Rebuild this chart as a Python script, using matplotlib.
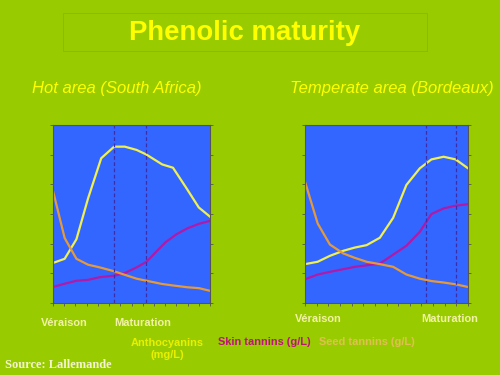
import matplotlib.pyplot as plt
from matplotlib.patches import Rectangle

# hot area (South Africa)
hot_antho_x = [0, 1.04, 2.09, 3.13, 4.3, 5.45, 6.4, 7.45, 8.3, 9.74, 10.7, 11.9, 13.0, 14]
hot_antho_y = [1.35, 1.49, 2.15, 3.53, 4.88, 5.27, 5.27, 5.16, 5.01, 4.67, 4.56, 3.87, 3.22, 2.91]
hot_skin_x = [0, 1.04, 2.09, 3.13, 4.17, 5.45, 6.4, 7.45, 8.34, 9.23, 10.04, 11.02, 12.0, 13.02, 14]
hot_skin_y = [0.54, 0.65, 0.75, 0.78, 0.87, 0.92, 1.01, 1.20, 1.39, 1.74, 2.05, 2.32, 2.52, 2.67, 2.77]
hot_seed_x = [0, 1.04, 2.09, 3.13, 4.17, 5.45, 6.4, 7.45, 8.34, 9.74, 10.72, 12.0, 13.02, 14]
hot_seed_y = [3.78, 2.19, 1.49, 1.29, 1.20, 1.07, 0.95, 0.82, 0.75, 0.64, 0.59, 0.53, 0.50, 0.41]
hot_marks = [5.45, 8.25]

# temperate area (Bordeaux)
temp_x = [0, 1.09, 2.14, 3.29, 4.29, 5.29, 6.43, 7.57, 8.71, 9.86, 10.86, 11.91, 12.94, 14]
temp_antho_y = [1.31, 1.39, 1.59, 1.76, 1.87, 1.95, 2.20, 2.87, 3.98, 4.54, 4.84, 4.93, 4.84, 4.54]
temp_skin_y = [0.80, 0.96, 1.05, 1.14, 1.22, 1.27, 1.33, 1.63, 1.93, 2.40, 3.00, 3.19, 3.28, 3.33]
temp_seed_y = [4.09, 2.68, 1.97, 1.67, 1.52, 1.39, 1.31, 1.22, 0.96, 0.82, 0.74, 0.69, 0.63, 0.54]
temp_marks = [10.43, 13.0]

bg = '#99cc00'
blue = '#3366ff'
c_antho = '#f0f050'
c_skin = '#b01aa8'
c_seed = '#e39a3c'

plt.rcParams['font.family'] = ['Liberation Sans', 'DejaVu Sans']

fig = plt.figure(figsize=(5, 3.75), dpi=100)
fig.patch.set_facecolor(bg)
W, H = 500.0, 375.0

def make_axes(left, right, top, bottom):
    return fig.add_axes([left / W, 1 - bottom / H, (right - left) / W, (bottom - top) / H])

def draw(ax, series, marks):
    ax.set_facecolor(blue)
    for xs, ys, c in series:
        ax.plot(xs, ys, color=c, lw=1.6)
    for m in marks:
        ax.axvline(m, color='#3a2fa8', lw=0.9, ls=(0, (3, 2)))
    ax.set_xlim(0, 14)
    ax.set_ylim(0, 6)
    ax.set_xticks(range(15))
    ax.set_yticks(range(7))
    ax.tick_params(axis='both', length=2.5, width=0.6, color='#555555',
                   labelbottom=False, labelleft=False, right=True, direction='out')
    for s in ax.spines.values():
        s.set_color('#555555')
        s.set_linewidth(0.8)

ax1 = make_axes(53, 210, 125, 303)
draw(ax1, [(hot_antho_x, hot_antho_y, c_antho), (hot_skin_x, hot_skin_y, c_skin),
           (hot_seed_x, hot_seed_y, c_seed)], hot_marks)
ax2 = make_axes(305, 468, 125, 303)
draw(ax2, [(temp_x, temp_antho_y, c_antho), (temp_x, temp_skin_y, c_skin),
           (temp_x, temp_seed_y, c_seed)], temp_marks)

# title box
fig.patches.append(Rectangle((64 / W, 1 - 52 / H), 364 / W, 38 / H, transform=fig.transFigure,
                             facecolor='#7aa800', edgecolor='none', zorder=0))
fig.patches.append(Rectangle((63 / W, 1 - 51 / H), 364 / W, 38 / H, transform=fig.transFigure,
                             facecolor=bg, edgecolor='#8cbc00', lw=0.8, zorder=1))
fig.text(245 / W, 1 - 33 / H, 'Phenolic maturity', color='#ffff00', fontsize=19.8,
         fontweight='bold', ha='center', va='center', zorder=2)

fig.text(117 / W, 1 - 89 / H, 'Hot area (South Africa)', color='#ffff00', fontsize=12,
         style='italic', ha='center', va='center')
fig.text(392 / W, 1 - 89 / H, 'Temperate area (Bordeaux)', color='#ffff00', fontsize=12,
         style='italic', ha='center', va='center')

lab = '#f2f2a6'
fs = 7.9
fig.text(64 / W, 1 - 323 / H, 'Véraison', color=lab, fontsize=fs, fontweight='bold', ha='center', va='center')
fig.text(143 / W, 1 - 323 / H, 'Maturation', color=lab, fontsize=fs, fontweight='bold', ha='center', va='center')
fig.text(318 / W, 1 - 319 / H, 'Véraison', color=lab, fontsize=fs, fontweight='bold', ha='center', va='center')
fig.text(450 / W, 1 - 319 / H, 'Maturation', color=lab, fontsize=fs, fontweight='bold', ha='center', va='center')

fig.text(167 / W, 1 - 349 / H, 'Anthocyanins\n(mg/L)', color='#e8f000', fontsize=fs,
         fontweight='bold', ha='center', va='center', linespacing=1.3)
fig.text(264 / W, 1 - 342 / H, 'Skin tannins (g/L)', color='#c0137a', fontsize=fs,
         fontweight='bold', ha='center', va='center')
fig.text(367 / W, 1 - 342 / H, 'Seed tannins (g/L)', color='#e0c050', fontsize=fs,
         fontweight='bold', ha='center', va='center')

fig.text(5 / W, 1 - 365 / H, 'Source: Lallemande', color='#f4f4d0', fontsize=9,
         fontweight='bold', family=['Liberation Serif', 'DejaVu Serif'], ha='left', va='center')

fig.savefig('out.png', dpi=100, facecolor=bg)
